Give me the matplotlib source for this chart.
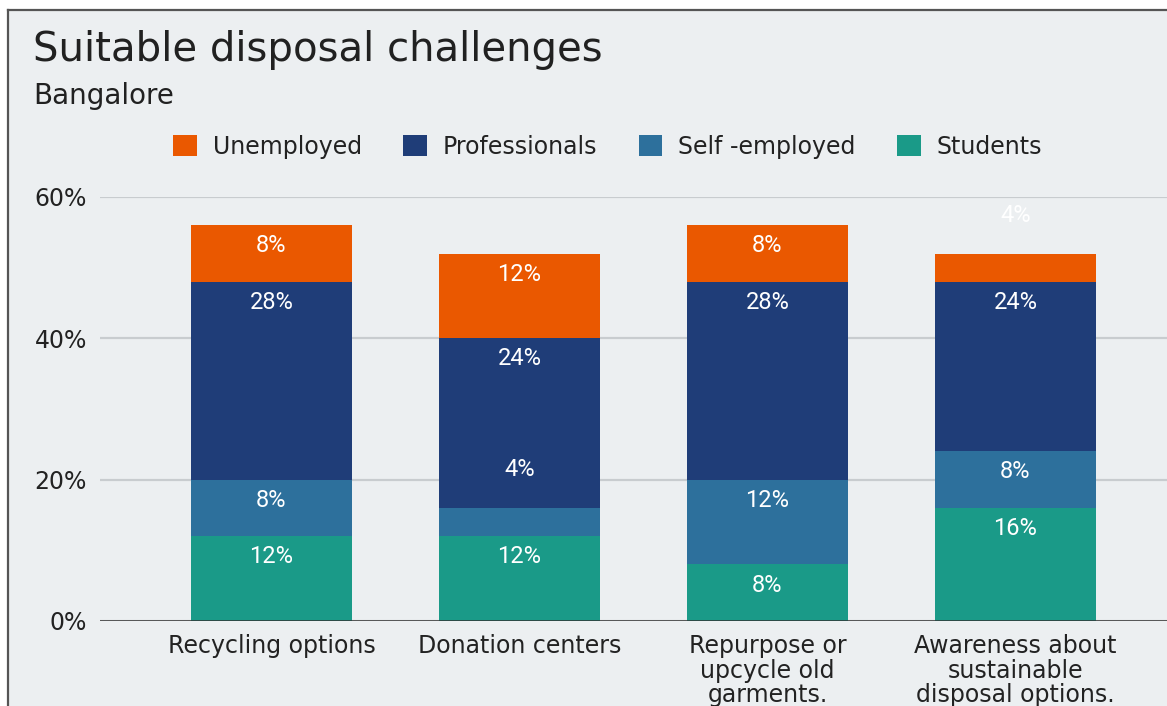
import numpy as np
import matplotlib
matplotlib.use("Agg")
import matplotlib.pyplot as plt
from matplotlib.patches import Rectangle
from matplotlib.lines import Line2D

plt.rcParams["font.family"] = ["DejaVu Sans"]

categories = ["Recycling options", "Donation centers",
              "Repurpose or\nupcycle old\ngarments.",
              "Awareness about\nsustainable\ndisposal options."]
groups = ["Students", "Self -employed", "Professionals", "Unemployed"]
students = [12, 12, 8, 16]
self_employed = [8, 4, 12, 8]
professionals = [28, 24, 28, 24]
unemployed = [8, 12, 8, 4]
colors = ["#1a9a88", "#2d709c", "#1f3d78", "#ea5800"]
yticks = [0, 20, 40, 60]

W, H = 1167, 706
bg = "#eceff1"

fig = plt.figure(figsize=(W / 100, H / 100), dpi=100, facecolor="white")
# card background + border (top and left only, rest is cropped)
fig.patches.append(Rectangle((8 / W, 0), 1, 1 - 10 / H, transform=fig.transFigure,
                             facecolor=bg, edgecolor="none", zorder=-10))
fig.lines.append(Line2D([8 / W, 8 / W], [0, 1 - 10 / H], transform=fig.transFigure,
                        color="#555555", lw=1.6))
fig.lines.append(Line2D([8 / W, 1], [1 - 10 / H, 1 - 10 / H], transform=fig.transFigure,
                        color="#555555", lw=1.6))

ax = fig.add_axes([100 / W, 85 / H, 1 - 100 / W, (621 - 197) / H])
ax.set_zorder(2)
ax.patch.set_alpha(0)

x = np.arange(len(categories))
width = 0.649
series = [students, self_employed, professionals, unemployed]
bottom = np.zeros(len(categories))
for vals, name, col in zip(series, groups, colors):
    vals = np.array(vals, dtype=float)
    ax.bar(x, vals, width, bottom=bottom, color=col, label=name, zorder=3, linewidth=0)
    for xi, v, b in zip(x, vals, bottom):
        top = b + v
        # small segments get their label above the segment
        if v >= 5:
            off = -14.8
        else:
            off = 27.4
        ax.annotate("%d%%" % v, (xi, top), xytext=(0, off), textcoords="offset points",
                    ha="center", va="center", color="white", fontsize=17,
                    family="Roboto", zorder=4)
    bottom = bottom + vals

ax.set_xlim(-0.6915, 3.611)
ax.set_ylim(0, 60)
ax.set_yticks(yticks)
ax.set_yticklabels(["%d%%" % t for t in yticks], fontsize=17, color="#222222")
ax.set_xticks(x)
ax.set_xticklabels(categories, fontsize=17, color="#222222", linespacing=1.02, va="top")
ax.tick_params(axis="both", length=0)
ax.tick_params(axis="y", pad=9.5)
ax.tick_params(axis="x", pad=9.5)
for s in ax.spines.values():
    s.set_visible(False)
ax.yaxis.grid(True, color="#c8cccf", lw=1.6, zorder=1)
ax.axhline(0, color="#333333", lw=1.8, zorder=5)

fig.text(33 / W, 1 - 61 / H, "Suitable disposal challenges", fontsize=29,
         color="#212121", ha="left", va="baseline")
fig.text(33 / W, 1 - 104 / H, "Bangalore", fontsize=20, color="#212121",
         ha="left", va="baseline")

handles, labels = ax.get_legend_handles_labels()
fig.legend(handles[::-1], labels[::-1], loc="center", ncol=4,
           bbox_to_anchor=(607.5 / W, 1 - 147 / H), frameon=False, fontsize=17,
           handlelength=1.0, handleheight=1.0, handletextpad=0.68,
           columnspacing=1.75, labelcolor="#222222")

fig.savefig("out.png", dpi=100, facecolor=fig.get_facecolor())
